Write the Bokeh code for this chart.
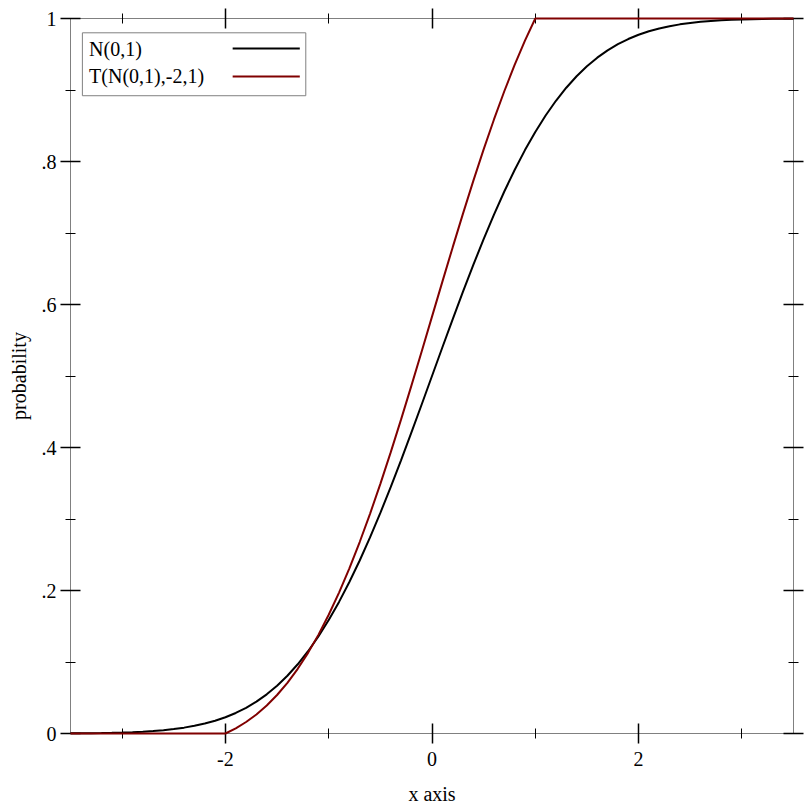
from bokeh.plotting import figure
from bokeh.models import (Range1d, FixedTicker, CustomJSTickFormatter, LinearAxis,
                          BoxAnnotation, Label)
from bokeh.embed import file_html
from bokeh.resources import INLINE

# ---- data ----
normal_x = [-3.5, -3.4, -3.3, -3.2, -3.1, -3.0, -2.9, -2.8, -2.7, -2.6, -2.5, -2.4, -2.3, -2.2, -2.1,
            -2.0, -1.9, -1.8, -1.7, -1.6, -1.5, -1.4, -1.3, -1.2, -1.1, -1.0, -0.9, -0.8, -0.7, -0.6,
            -0.5, -0.4, -0.3, -0.2, -0.1, 0.0, 0.1, 0.2, 0.3, 0.4, 0.5, 0.6, 0.7, 0.8, 0.9, 1.0,
            1.1, 1.2, 1.3, 1.4, 1.5, 1.6, 1.7, 1.8, 1.9, 2.0, 2.1, 2.2, 2.3, 2.4, 2.5, 2.6, 2.7,
            2.8, 2.9, 3.0, 3.1, 3.2, 3.3, 3.4, 3.5]
normal_y = [0.00023, 0.00034, 0.00048, 0.00069, 0.00097, 0.00135, 0.00187, 0.00256, 0.00347,
            0.00466, 0.00621, 0.00820, 0.01072, 0.01390, 0.01786, 0.02275, 0.02872, 0.03593,
            0.04457, 0.05480, 0.06681, 0.08076, 0.09680, 0.11507, 0.13567, 0.15866, 0.18406,
            0.21186, 0.24196, 0.27425, 0.30854, 0.34458, 0.38209, 0.42074, 0.46017, 0.50000,
            0.53983, 0.57926, 0.61791, 0.65542, 0.69146, 0.72575, 0.75804, 0.78814, 0.81594,
            0.84134, 0.86433, 0.88493, 0.90320, 0.91924, 0.93319, 0.94520, 0.95543, 0.96407,
            0.97128, 0.97725, 0.98214, 0.98610, 0.98928, 0.99180, 0.99379, 0.99534, 0.99653,
            0.99744, 0.99813, 0.99865, 0.99903, 0.99931, 0.99952, 0.99966, 0.99977]

trunc_x = [-3.5, -2.0, -1.9, -1.8, -1.7, -1.6, -1.5, -1.4, -1.3, -1.2, -1.1, -1.0, -0.9, -0.8,
           -0.7, -0.6, -0.5, -0.4, -0.3, -0.2, -0.1, 0.0, 0.1, 0.2, 0.3, 0.4, 0.5, 0.6, 0.7,
           0.8, 0.9, 1.0, 3.5]
trunc_y = [0.0, 0.0, 0.00729, 0.01610, 0.02666, 0.03915, 0.05382, 0.07087, 0.09046, 0.11278,
           0.13794, 0.16603, 0.19706, 0.23102, 0.26779, 0.30724, 0.34913, 0.39315, 0.43897,
           0.48619, 0.53436, 0.58302, 0.63167, 0.67984, 0.72706, 0.77288, 0.81690, 0.85879,
           0.89824, 0.93501, 0.96897, 1.0, 1.0]

series_names = ["N(0,1)", "T(N(0,1),-2,1)"]
series_colors = ["#000000", "#800000"]

x_major = [-2, 0, 2]
x_minor = [-3, -1, 1, 3]
y_major = [0, 0.2, 0.4, 0.6, 0.8, 1.0]
y_minor = [0.1, 0.3, 0.5, 0.7, 0.9]

FONT = "Liberation Serif"
FS = "20px"
FRAME_GRAY = "#808080"

p = figure(width=812, height=812, output_backend="svg", toolbar_location=None,
           x_range=Range1d(-3.5, 3.5), y_range=Range1d(0, 1),
           x_axis_label="x axis", y_axis_label="probability",
           min_border_left=70, min_border_right=19, min_border_top=18, min_border_bottom=79)
p.grid.visible = False
p.outline_line_color = FRAME_GRAY
p.outline_line_width = 1
p.background_fill_color = "white"
p.border_fill_color = "white"

p.add_layout(LinearAxis(), "above")
p.add_layout(LinearAxis(), "right")

ylab = CustomJSTickFormatter(code="""
if (Math.abs(tick) < 1e-9) return "0";
if (Math.abs(tick - 1) < 1e-9) return "1";
return tick.toFixed(1).replace(/^0/, "");
""")
xlab = CustomJSTickFormatter(code="return String(Math.round(tick));")

for ax in p.xaxis:
    ax.ticker = FixedTicker(ticks=x_major, minor_ticks=x_minor)
    ax.formatter = xlab
for ax in p.yaxis:
    ax.ticker = FixedTicker(ticks=y_major, minor_ticks=y_minor)
    ax.formatter = ylab

for ax in p.axis:
    ax.axis_line_color = FRAME_GRAY
    ax.axis_line_width = 1
    ax.major_tick_line_color = "black"
    ax.major_tick_line_width = 1.5
    ax.minor_tick_line_color = "black"
    ax.minor_tick_line_width = 1
    ax.major_tick_in = 10
    ax.major_tick_out = 10
    ax.minor_tick_in = 5
    ax.minor_tick_out = 5
    ax.major_label_text_font = FONT
    ax.major_label_text_font_size = FS
    ax.major_label_text_color = "black"
    ax.axis_label_text_font = FONT
    ax.axis_label_text_font_size = FS
    ax.axis_label_text_font_style = "normal"
    ax.axis_label_text_color = "black"

for ax in (p.above[0], p.right[0]):
    ax.major_label_text_font_size = "0px"
    ax.major_label_standoff = 0
    ax.formatter = CustomJSTickFormatter(code="return '';")

p.below[0].major_label_standoff = 8
p.left[0].major_label_standoff = 4
p.below[0].axis_label_standoff = 14
p.left[0].axis_label_standoff = 9

p.line(normal_x, normal_y, line_color=series_colors[0], line_width=2, level="overlay")
p.line(trunc_x, trunc_y, line_color=series_colors[1], line_width=2, level="overlay")

# ---- legend (text left, swatch right, as in the reference) ----
leg_left, leg_right, leg_top, leg_bottom = -3.385, -1.222, 0.980, 0.892
p.add_layout(BoxAnnotation(left=leg_left, right=leg_right, top=leg_top, bottom=leg_bottom,
                           fill_color="white", fill_alpha=1.0,
                           line_color=FRAME_GRAY, line_alpha=1.0, line_width=1))
leg_rows = [0.958, 0.919]
for name, col, yy in zip(series_names, series_colors, leg_rows):
    p.add_layout(Label(x=-3.32, y=yy, text=name, text_font=FONT, text_font_size=FS,
                       text_baseline="middle", text_align="left", text_color="black"))
    p.segment(x0=[-1.93], y0=[yy], x1=[-1.28], y1=[yy], line_color=col, line_width=2,
              level="overlay")

open("out.html", "w").write(file_html(p, INLINE))
